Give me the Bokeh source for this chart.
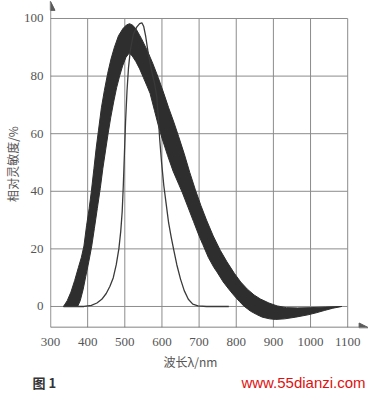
from bokeh.plotting import figure
from bokeh.layouts import column, row
from bokeh.models import Range1d, FixedTicker, Label, Arrow, NormalHead
from bokeh.embed import file_html
from bokeh.resources import INLINE

# ---- data ----
x_ticks = [300, 400, 500, 600, 700, 800, 900, 1000, 1100]
y_ticks = [0, 20, 40, 60, 80, 100]

# broad response band: outer edge (rising -> peak -> tail)
band_outer_nm = [335, 345, 355, 365, 375, 383, 390, 397, 404, 410, 417, 423, 429, 437, 445, 454,
                 463, 472, 483, 495, 505, 513, 522, 532, 545, 560, 575, 590, 605, 618, 632, 645,
                 660, 675, 690, 705, 720, 738, 757, 775, 795, 812, 830, 848, 865, 888, 910, 935,
                 965, 1000, 1040, 1084]
band_outer_pct = [0, 2, 5, 9, 13.5, 17, 21, 28, 34, 40, 48, 55, 61, 69, 75, 81,
                  86, 90, 94, 96.5, 97.8, 98.2, 97.6, 96, 93, 89, 84.5, 79.5, 74, 69, 64, 59,
                  53, 46.5, 40.5, 35, 30, 24.5, 19.5, 15.5, 11.5, 8.5, 6, 4, 2.6, 1.2, 0.2, -0.4,
                  -0.5, -0.4, -0.2, 0]
# inner edge of the band
band_inner_nm = [373, 380, 388, 395, 403, 411, 418, 426, 434, 441, 448, 455, 462, 470, 478, 486,
                 494, 503, 512, 520, 530, 540, 550, 560, 568, 580, 590, 600, 615, 630, 645, 655,
                 670, 685, 700, 710, 725, 740, 748, 765, 780, 794, 808, 820, 838, 855, 870, 890,
                 906, 930, 960, 993, 1015, 1037, 1060, 1084]
band_inner_pct = [0, 2, 6, 10.5, 15.5, 21, 27, 34, 41, 48, 54, 60, 65.5, 71, 76, 80,
                  83.5, 86.5, 88, 87, 85, 82.5, 79.5, 76.5, 74, 68, 63, 58.5, 52.5, 47, 42.5, 39.5,
                  34.5, 29.5, 24.5, 21.5, 17, 13.5, 12, 8.5, 6, 3.8, 1.8, 0.2, -1.6, -2.8, -3.7, -4.3,
                  -4.5, -4.3, -3.7, -2.9, -2.2, -1.4, -0.6, 0]

# narrow (eye) response curve
eye_nm = [335, 360, 390, 410, 425, 438, 450, 460, 469, 477, 484, 489, 493, 496, 499, 502, 506,
          510, 515, 523, 532, 540, 546, 551, 556, 563, 572, 580, 586, 590, 594, 599, 605, 611,
          618, 625, 632, 640, 650, 660, 671, 683, 697, 720, 750, 780]
eye_pct = [0, 0, 0, 0.4, 1.2, 2.5, 4.5, 7, 10, 14.5, 20, 26, 33, 42, 53, 64, 75,
           83, 89, 94.5, 97, 98.2, 98.5, 97.2, 94, 88, 82, 77.5, 73, 66, 58, 50, 42, 36,
           29, 24, 19.5, 14.5, 9.5, 5.5, 2.5, 0.8, 0.2, 0, 0, 0]

x_title = "波长λ/nm"
y_title = "相对灵敏度/%"
fig_caption = "图 1"
watermark = "www.55dianzi.com"

# ---- main figure ----
X0, X1 = 300, 1156
Y0, Y1 = -7.3, 106.25
p = figure(width=368, height=352, x_range=Range1d(X0, X1), y_range=Range1d(Y0, Y1),
           output_backend="svg", toolbar_location=None,
           min_border_left=40, min_border_right=0, min_border_top=0, min_border_bottom=25)
p.outline_line_color = None
p.xgrid.visible = False
p.ygrid.visible = False

for ax, ticks in ((p.xaxis, x_ticks), (p.yaxis, y_ticks)):
    ax.ticker = FixedTicker(ticks=ticks)
    ax.axis_line_color = None
    ax.major_tick_line_color = None
    ax.minor_tick_line_color = None
    ax.major_tick_in = 0
    ax.major_tick_out = 0
    ax.major_label_text_font = "Liberation Serif"
    ax.major_label_text_font_size = "13px"
    ax.major_label_text_color = "#555555"
p.xaxis.major_label_standoff = 10
p.yaxis.major_label_standoff = 7

p.yaxis.axis_label = y_title
p.yaxis.axis_label_standoff = 0
p.yaxis.axis_label_text_font = "Noto Sans CJK SC"
p.yaxis.axis_label_text_font_size = "12px"
p.yaxis.axis_label_text_font_style = "normal"
p.yaxis.axis_label_text_color = "#555555"

# grid lines (bounded to the 300-1100 / 0-100 box)
grid_color = "#8c8c8c"
p.segment(x0=x_ticks[1:], y0=[Y0] * (len(x_ticks) - 1), x1=x_ticks[1:],
          y1=[y_ticks[-1]] * (len(x_ticks) - 1), line_color=grid_color, line_width=1)
p.segment(x0=[x_ticks[0]] * len(y_ticks), y0=y_ticks, x1=[x_ticks[-1]] * len(y_ticks),
          y1=y_ticks, line_color=grid_color, line_width=1)

# band
p.patch(band_outer_nm + band_inner_nm[::-1], band_outer_pct + band_inner_pct[::-1],
        fill_color="#2e2e2e", line_color="#2e2e2e", line_width=1)

# eye curve
p.line(eye_nm, eye_pct, line_color="#3a3a3a", line_width=1.3)

# axes with arrow heads
axis_color = "#5a5a5a"
p.add_layout(Arrow(end=NormalHead(size=9, fill_color=axis_color, line_color=axis_color),
                   x_start=X0, y_start=Y0, x_end=X1 - 1, y_end=Y0,
                   line_color=axis_color, line_width=1.3))
p.add_layout(Arrow(end=NormalHead(size=9, fill_color=axis_color, line_color=axis_color),
                   x_start=X0, y_start=Y0, x_end=X0, y_end=Y1 - 0.3,
                   line_color=axis_color, line_width=1.3))

# ---- caption strip below (pixel coordinates) ----
q = figure(width=368, height=40, x_range=Range1d(0, 368), y_range=Range1d(0, 40),
           output_backend="svg", toolbar_location=None, x_axis_type=None, y_axis_type=None,
           min_border_left=0, min_border_right=0, min_border_top=0, min_border_bottom=0)
q.outline_line_color = None
q.xgrid.visible = False
q.ygrid.visible = False
q.add_layout(Label(x=190, y=31, text=x_title, text_font="Noto Sans CJK SC",
                   text_font_size="12px", text_color="#555555", text_align="center",
                   text_baseline="middle"))
q.add_layout(Label(x=32, y=10, text=fig_caption, text_font="Noto Sans CJK SC",
                   text_font_size="13px", text_color="#333333", text_align="left",
                   text_baseline="middle", text_font_style="bold"))
q.add_layout(Label(x=303, y=10, text=watermark, text_font="Liberation Sans",
                   text_font_size="15px", text_color="#e01010", text_align="center",
                   text_baseline="middle"))

open("out.html", "w").write(file_html(column(p, row(q, spacing=0), spacing=0), INLINE))
